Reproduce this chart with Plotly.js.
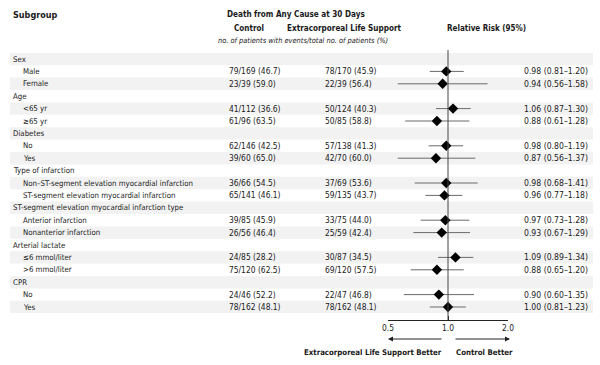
<!DOCTYPE html>
<html>
<head>
<meta charset="utf-8">
<script src="https://cdn.plot.ly/plotly-3.0.1.min.js"></script>
<style>html,body{margin:0;padding:0;background:#fff}#chart{width:600px;height:365px}</style>
</head>
<body>
<div id="chart"></div>
<script>
// ---- data ----
const rowLabels = ["Sex","Male","Female","Age","<65 yr","≥65 yr","Diabetes","No","Yes",
  "Type of infarction","Non–ST-segment elevation myocardial infarction","ST-segment elevation myocardial infarction",
  "ST-segment elevation myocardial infarction type","Anterior infarction","Nonanterior infarction",
  "Arterial lactate","≤6 mmol/liter",">6 mmol/liter","CPR","No","Yes"];
const isHeader = [1,0,0,1,0,0,1,0,0,1,0,0,1,0,0,1,0,0,1,0,0];
const controlText = ["","79/169 (46.7)","23/39 (59.0)","","41/112 (36.6)","61/96 (63.5)","","62/146 (42.5)","39/60 (65.0)",
  "","36/66 (54.5)","65/141 (46.1)","","39/85 (45.9)","26/56 (46.4)","","24/85 (28.2)","75/120 (62.5)","","24/46 (52.2)","78/162 (48.1)"];
const eclsText = ["","78/170 (45.9)","22/39 (56.4)","","50/124 (40.3)","50/85 (58.8)","","57/138 (41.3)","42/70 (60.0)",
  "","37/69 (53.6)","59/135 (43.7)","","33/75 (44.0)","25/59 (42.4)","","30/87 (34.5)","69/120 (57.5)","","22/47 (46.8)","78/162 (48.1)"];
const rr   = [null,0.98,0.94,null,1.06,0.88,null,0.98,0.87,null,0.98,0.96,null,0.97,0.93,null,1.09,0.88,null,0.90,1.00];
const rrLo = [null,0.81,0.56,null,0.87,0.61,null,0.80,0.56,null,0.68,0.77,null,0.73,0.67,null,0.89,0.65,null,0.60,0.81];
const rrHi = [null,1.20,1.58,null,1.30,1.28,null,1.19,1.37,null,1.41,1.18,null,1.28,1.29,null,1.34,1.20,null,1.35,1.23];
const tickVals = [0.5,1,2];
const tickText = ["0.5","1.0","2.0"];

// ---- build ----
const W=600,H=365;
const FONT="DejaVu Sans Condensed, DejaVu Sans, sans-serif";
const txt="#1a1a1a";
const py = p => 1 - p/H;
const px = p => p/W;
const n = rowLabels.length;

const ciX=[], ciY=[], mX=[], mY=[];
for(let i=0;i<n;i++){
  if(rr[i]==null) continue;
  ciX.push(rrLo[i],rrHi[i],null); ciY.push(i,i,null);
  mX.push(rr[i]); mY.push(i);
}
const traces=[
  {type:"scatter",mode:"lines",x:ciX,y:ciY,line:{color:"#6a6a6a",width:1},hoverinfo:"skip",showlegend:false},
  {type:"scatter",mode:"markers",x:mX,y:mY,marker:{symbol:"diamond",size:8,color:"#000"},showlegend:false}
];

const shapes=[], ann=[];
for(let i=0;i<n;i+=2){
  shapes.push({type:"rect",layer:"below",xref:"paper",yref:"y",x0:px(10),x1:px(593),y0:i-0.5,y1:i+0.5,fillcolor:"#f2f2f2",line:{width:0}});
}
shapes.push({type:"line",xref:"x",yref:"paper",x0:1,x1:1,y0:py(320),y1:py(50),line:{color:"#444",width:1}});

const f=(size,bold,italic)=>({family:FONT,size:size,color:txt,weight:bold?"bold":"normal",style:italic?"italic":"normal"});
for(let i=0;i<n;i++){
  ann.push({xref:"paper",yref:"y",x:px(isHeader[i]?11:21),y:i,text:rowLabels[i],showarrow:false,xanchor:"left",yanchor:"middle",font:f(7.8)});
  if(controlText[i]) ann.push({xref:"paper",yref:"y",x:px(227),y:i,text:controlText[i],showarrow:false,xanchor:"left",font:f(8.4)});
  if(eclsText[i]) ann.push({xref:"paper",yref:"y",x:px(323),y:i,text:eclsText[i],showarrow:false,xanchor:"left",font:f(8.4)});
  if(rr[i]!=null) ann.push({xref:"paper",yref:"y",x:px(590),y:i,text:rr[i].toFixed(2)+" ("+rrLo[i].toFixed(2)+"–"+rrHi[i].toFixed(2)+")",showarrow:false,xanchor:"right",font:f(8.6)});
}
const hdr=(text,x,y,anchor,font)=>ann.push({xref:"paper",yref:"paper",x:px(x),y:py(y),text:text,showarrow:false,xanchor:anchor,yanchor:"middle",font:font});
hdr("Subgroup",11,15,"left",f(9,true));
hdr("Death from Any Cause at 30 Days",296,14,"center",f(8.1,true));
hdr("Control",249,28,"center",f(8.1,true));
hdr("Extracorporeal Life Support",344,28,"center",f(8.1,true));
hdr("Relative Risk (95%)",486,28,"center",f(8,true));
hdr("no. of patients with events/total no. of patients (%)",303,41,"center",f(7.4,false,true));
hdr("Extracorporeal Life Support Better",444,352,"right",f(7.8,true));
hdr("Control Better",454,352,"left",f(7.8,true));
// arrows
ann.push({xref:"paper",yref:"paper",axref:"paper",ayref:"paper",x:px(388),y:py(339),ax:px(443),ay:py(339),text:"",showarrow:true,arrowhead:2,arrowsize:1,arrowwidth:1,arrowcolor:"#222"});
ann.push({xref:"paper",yref:"paper",axref:"paper",ayref:"paper",x:px(510),y:py(339),ax:px(454),ay:py(339),text:"",showarrow:true,arrowhead:2,arrowsize:1,arrowwidth:1,arrowcolor:"#222"});

const layout={
  width:W,height:H,margin:{l:0,r:0,t:0,b:0},paper_bgcolor:"#fff",plot_bgcolor:"rgba(0,0,0,0)",
  showlegend:false,
  xaxis:{type:"log",domain:[px(388),px(508)],range:[Math.log10(0.5),Math.log10(2)],anchor:"free",position:py(320),
    showgrid:false,zeroline:false,showline:true,linecolor:"#222",linewidth:1,
    ticks:"inside",ticklen:4,tickcolor:"#222",tickvals:tickVals,ticktext:tickText,
    tickfont:{family:FONT,size:8.4,color:txt}},
  yaxis:{domain:[py(313.2),py(52.8)],range:[20.5,-0.5],showgrid:false,zeroline:false,showline:false,showticklabels:false,ticks:""},
  shapes:shapes,annotations:ann
};
Plotly.newPlot("chart",traces,layout,{displayModeBar:false,staticPlot:true});
</script>
</body>
</html>
